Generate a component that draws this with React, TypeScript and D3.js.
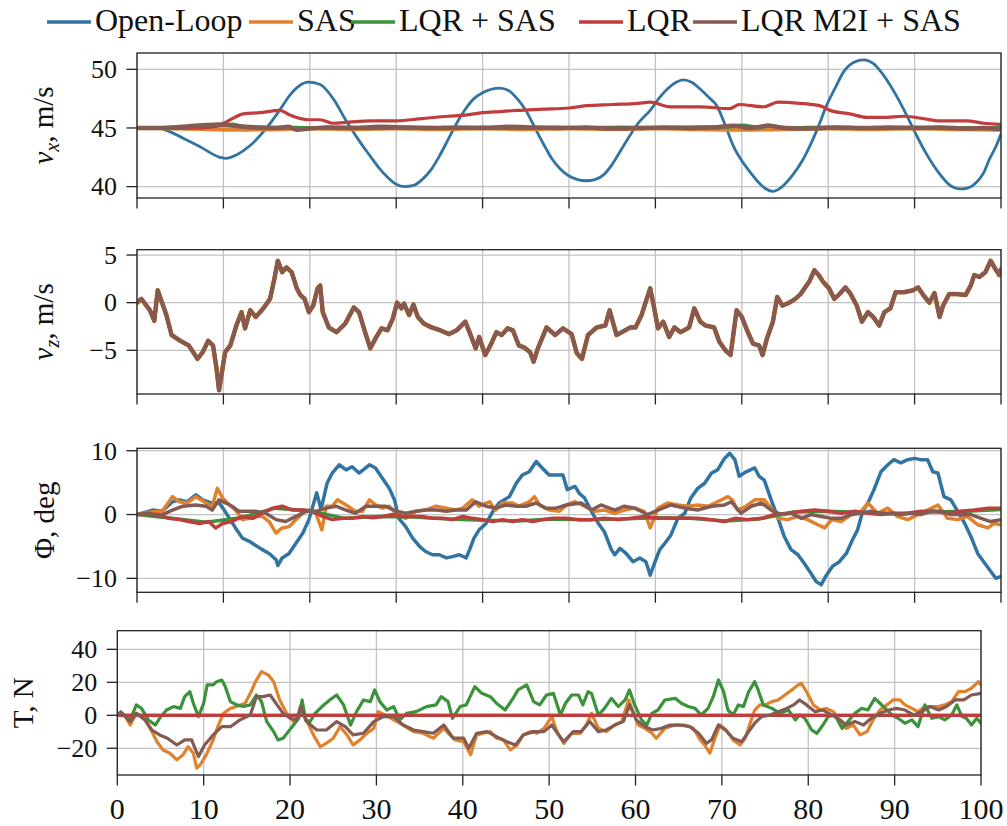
import React from 'react';
import * as d3 from 'd3';

type P = [number, number];

// ---------- tick values ----------
const xTicks = [0, 10, 20, 30, 40, 50, 60, 70, 80, 90, 100];
const vxTicks = [40, 45, 50];
const vzTicks = [-5, 0, 5];
const phiTicks = [-10, 0, 10];
const thrTicks = [-20, 0, 20, 40];

const seriesNames = ['Open-Loop', 'SAS', 'LQR + SAS', 'LQR', 'LQR M2I + SAS'];

// ---------- v_x, m/s ----------
const vxOpenLoop: P[] = [[0,45],[2,45],[3.4,44.8],[5.4,44.1],[7.3,43.4],[9.6,42.5],[10.3,42.4],[11.5,42.7],[13.1,43.5],[15,45],[16.5,46.5],[17.7,47.8],[18.8,48.6],[19.8,48.9],[21.2,48.7],[22.7,47.5],[24.3,45.5],[26,43.6],[27,42.6],[28,41.6],[29,40.8],[30,40.2],[31,40.0],[32,40.1],[33,40.6],[34,41.4],[35,42.6],[36,44.0],[37,45.4],[38,46.6],[39,47.5],[40,48.0],[41,48.3],[42,48.4],[43,48.2],[44,47.5],[45,46.5],[46,45.1],[47,43.7],[48,42.4],[49,41.5],[50,40.9],[51,40.6],[52,40.5],[53,40.6],[54,41.0],[55,41.9],[56,43.1],[57,44.3],[58,45.4],[59.4,46.5],[60.5,47.6],[61.5,48.4],[62.4,48.9],[63.2,49.1],[64.2,48.9],[65.2,48.3],[66.2,47.6],[67.1,46.9],[68,45.4],[69,43.5],[70,42.2],[71,41.2],[72,40.3],[72.8,39.8],[73.6,39.6],[74.5,39.9],[75.9,41.0],[77,42.2],[77.9,43.5],[78.9,45.2],[79.8,46.9],[80.8,48.4],[81.8,49.8],[83,50.6],[84.1,50.8],[85.2,50.5],[86.4,49.5],[87.3,48.5],[88.3,47.2],[89.2,45.9],[90.2,44.4],[91.2,43.0],[92.2,41.8],[93.2,40.8],[94.1,40.1],[95.3,39.8],[96.2,39.9],[97.2,40.4],[98,41.2],[98.7,42.4],[99.4,43.4],[100,44.5]];
const vxSAS: P[] = [[0,45],[4,44.95],[8,44.9],[12,44.85],[16,44.9],[20,44.95],[25,44.9],[30,44.95],[35,44.9],[40,44.95],[45,44.9],[50,44.95],[55,44.9],[60,44.95],[65,44.9],[70,44.85],[75,44.9],[80,44.95],[85,44.9],[90,44.95],[95,44.9],[100,44.85]];
const vxLQRSAS: P[] = [[0,45],[3,45],[6,45.05],[8,45.1],[10,45.25],[11,45.3],[12,45.15],[14,45.0],[17,45.05],[20,45.0],[24,45.05],[28,45.0],[32,45.05],[36,45.0],[40,45.05],[44,45.0],[48,45.05],[52,45.0],[56,45.05],[60,45.0],[64,45.05],[68,45.1],[70,45.2],[72,45.05],[73,45.2],[75,45.0],[80,45.05],[85,45.0],[90,45.05],[95,45.0],[100,45.0]];
const vxLQR: P[] = [[0,45],[3,45],[6,45],[8.8,45.1],[10.3,45.5],[11.3,45.9],[12.3,46.2],[14.2,46.3],[16.5,46.5],[17.7,46.1],[19.8,45.7],[21.2,45.7],[22.7,45.4],[24.6,45.5],[27,45.6],[30,45.6],[33,45.8],[36,46.0],[38,46.1],[40,46.3],[42,46.4],[44,46.5],[47,46.6],[50,46.7],[52,46.9],[55,47.0],[58,47.1],[59.4,47.2],[61.7,46.8],[62.8,46.8],[65.2,46.8],[68.6,46.65],[69.7,47.0],[72.5,46.8],[74.2,47.2],[76.7,47.1],[79,46.9],[80.2,46.5],[82.5,46.2],[84.5,45.9],[86.4,45.9],[88.7,46.0],[91,45.8],[92.9,45.6],[96,45.6],[98,45.4],[100,45.3]];
const vxM2I: P[] = [[0,45],[2,45],[4,45.05],[6,45.15],[8,45.25],[9.5,45.3],[11,45.2],[12.5,45.1],[14,45.05],[16,45.0],[17.5,45.1],[18.5,44.85],[20,44.95],[22,45.05],[25,45.0],[28,45.1],[31,45.05],[34,45.0],[37,45.05],[40,45.0],[43,45.1],[46,45.05],[49,45.0],[52,45.05],[55,44.95],[58,45.0],[61,45.05],[64,45.0],[67,45.05],[69,45.2],[71,45.0],[73,45.2],[75,45.0],[78,44.95],[81,45.05],[84,45.0],[87,45.05],[90,45.0],[93,45.05],[96,44.95],[98,45.0],[100,44.9]];

// ---------- v_z, m/s (all five controllers overlap) ----------
const vzAll: P[] = [[0,0],[0.5,0.4],[1.5,-0.8],[2,-1.9],[2.4,1.3],[3.4,-1.3],[4,-3.4],[5,-4],[6,-4.5],[7,-5.9],[7.6,-5.2],[8.25,-4],[8.8,-4.5],[9.2,-6.9],[9.5,-9.2],[10.2,-5.2],[10.8,-4.5],[11.5,-2.4],[12.1,-1],[12.5,-2.7],[13.1,-0.8],[13.75,-1.5],[14.7,-0.5],[15.4,0.4],[15.9,2.5],[16.3,4.4],[16.8,3.2],[17.3,3.7],[17.9,3.2],[18.5,1.5],[18.9,0.8],[19.4,0.4],[19.9,-1],[20.4,-0.3],[20.9,1.5],[21.2,1.8],[21.5,-1],[22.2,-2.6],[23.1,-3.1],[24.1,-2.2],[25.1,-0.5],[25.7,-1],[26.4,-3.1],[27,-4.8],[27.7,-3.6],[28.3,-2.7],[29,-2.9],[29.6,-1.7],[30.1,0],[30.6,-0.6],[30.9,-0.1],[31.5,-1.3],[32,-0.2],[32.5,-1.5],[33.2,-2.2],[34.1,-2.6],[35.1,-2.9],[36.1,-3.3],[37,-2.9],[38,-2],[38.7,-3.6],[39.2,-4.8],[39.6,-3.6],[40.3,-5.5],[40.9,-4.5],[41.6,-3.1],[42.2,-3.4],[42.9,-2.7],[43.5,-2.9],[44.2,-4.5],[44.8,-4.7],[45.5,-5.2],[45.9,-6.2],[46.4,-4.8],[47.4,-2.6],[48.4,-3.4],[49.3,-2.7],[50.3,-3.3],[50.9,-5.3],[51.5,-5.9],[52.2,-3.4],[53.2,-2.6],[54.2,-2.4],[54.7,-0.8],[55.5,-3.4],[56.1,-3.1],[57.1,-2.6],[57.7,-2.6],[58.4,-1.3],[59,0.4],[59.4,1.5],[59.8,-0.3],[60.3,-2.7],[60.9,-2],[61.6,-3.6],[62.2,-2.6],[62.9,-3.1],[63.9,-2.6],[64.5,-0.6],[65.2,-2],[65.8,-2.4],[66.8,-2.6],[67.4,-4.1],[68.1,-5],[68.7,-5.5],[69.4,-0.8],[70,-1.5],[70.7,-3.1],[71.3,-4.3],[72,-4.5],[72.4,-5.5],[72.9,-3.8],[73.6,-2],[74.1,0.6],[74.7,-0.3],[75.5,0],[76.2,0.4],[76.8,0.9],[77.8,2.2],[78.4,3.4],[78.9,2.9],[79.4,2.2],[80.1,1.5],[80.7,0.4],[81.3,0.9],[82,1.6],[82.6,0.9],[83.3,-0.3],[83.9,-2],[84.6,-1],[85.2,-1.5],[85.9,-2.4],[86.5,-1],[87.2,-0.6],[87.8,1.1],[88.8,1.1],[89.8,1.3],[90.4,1.6],[91,0.8],[91.7,0],[92.3,1.0],[92.9,-1.5],[93.3,-0.3],[94,0.9],[94.9,0.9],[95.9,0.8],[96.5,1.8],[96.9,2.9],[97.5,2.7],[98.2,3.2],[98.8,4.4],[99.3,3.6],[99.8,2.9],[100,3.5]];

// ---------- Phi, deg ----------
const phiOpenLoop: P[] = [[0,0],[1.8,0.7],[2.9,0.5],[4.1,2],[4.9,2.3],[5.8,2],[6.8,3.1],[7.6,2.3],[8.7,1.8],[9.5,1.8],[10.1,0.7],[10.7,-0.6],[11.4,-2.1],[12.2,-3.7],[13,-4.2],[13.7,-4.8],[14.5,-5.5],[15.3,-6.1],[16.1,-7.1],[16.3,-8],[16.8,-6.8],[17.6,-6.1],[18.4,-4.5],[19.2,-2.9],[19.9,-0.8],[20.5,2],[20.8,3.4],[21.3,0.8],[22,4.9],[22.6,6.5],[23.4,7.8],[24.2,7],[24.9,7.5],[25.7,6.5],[26.9,7.8],[27.6,7.3],[28.4,5.7],[29.2,4.1],[29.8,2.3],[30.3,-0.6],[31.1,-1.9],[31.9,-3.7],[32.7,-5],[33.4,-5.8],[34.2,-6.3],[35,-6.3],[35.8,-6.8],[36.5,-6.6],[37.3,-6.3],[38.1,-6.8],[38.5,-5.5],[39,-3.7],[39.6,-2.4],[40.4,-1.4],[41.2,0.5],[41.9,1.8],[43.1,2.8],[43.9,4.9],[44.6,6.2],[45.4,6.7],[46.2,8.3],[46.9,7.3],[47.7,6.2],[48.5,6.2],[49.3,6.2],[49.8,3.9],[50.3,4.2],[50.7,4.4],[51.2,3.3],[51.8,2.6],[52.6,0.5],[53.4,-1.4],[54.1,-2.7],[54.9,-5.5],[55.3,-6.3],[55.9,-5.3],[56.6,-6.1],[57.4,-7.4],[58.2,-6.8],[58.9,-7.4],[59.4,-9.5],[59.9,-7.6],[60.5,-5.5],[61.1,-4.5],[61.8,-3.2],[62.6,-0.6],[63.4,0.2],[64.1,2.6],[64.9,4.1],[65.7,4.9],[66.5,6.5],[67.2,7],[68,8.8],[68.6,9.6],[69.2,8.6],[69.7,6],[70.5,6.7],[71.5,7.3],[72,6],[72.6,5.4],[73.4,2.3],[74.2,-0.6],[74.9,-3.4],[75.7,-5.5],[76.5,-6.3],[77.2,-7.6],[78,-9.2],[78.6,-10.5],[79.2,-11],[79.7,-9.7],[80.5,-8.1],[81.3,-7.4],[82.1,-6.1],[82.8,-4],[83.4,-2.4],[84,0.5],[84.6,1.8],[85.3,3.9],[86.1,6.7],[86.9,7.8],[87.6,8.6],[88.4,8.1],[89.2,8.6],[90,8.8],[90.7,8.6],[91.5,8.6],[92.1,6.7],[92.7,6.5],[93.4,2.8],[94.2,2.3],[95,0.5],[95.8,-1.4],[96.5,-3.4],[97.3,-6.1],[98.1,-7.6],[98.8,-8.9],[99.4,-10],[100,-9.7]];
const phiSAS: P[] = [[0,0],[1.5,0.4],[2.9,0.5],[4.1,2.8],[4.9,2],[5.8,1.8],[6.8,2.8],[8,1.8],[8.7,1.3],[9.3,4.1],[9.9,2.6],[10.7,1.5],[11.4,0.7],[12.2,-0.8],[13,-0.6],[13.7,-0.3],[14.5,-0.3],[15.3,-1.1],[16.1,-2.9],[16.8,-2.1],[17.6,-1.9],[18.4,-0.8],[19.2,0.2],[19.9,0.7],[20.7,0.2],[21.4,-2.4],[21.9,1.3],[22.6,1.3],[23.2,2.3],[24.2,1.5],[25.3,0.5],[26.1,0.5],[26.9,2.3],[27.6,1.5],[28.4,1],[29.2,1.3],[30,0.2],[31.1,-0.6],[32.3,0.5],[33.4,0.7],[34.6,1.3],[35.8,1],[36.9,0.7],[37.7,1],[38.8,2.3],[39.6,1.3],[40.8,2],[41.5,0.7],[42.3,1.8],[43.5,1.8],[44.2,1.3],[45.4,2],[46,2.8],[46.6,1.5],[47.7,0.7],[48.9,0.5],[49.7,1.5],[50.7,2],[51.8,1.3],[53,0.5],[54.1,0.7],[55.3,0.2],[56.4,0.7],[57.6,1],[58.7,0.5],[59.4,-2.1],[60.3,1],[61.4,1.8],[62.6,1.5],[63.8,1.3],[64.9,1.5],[66.1,1.3],[67.2,2],[68.4,2.8],[68.9,2.3],[69.5,0.7],[70.5,1.3],[71.5,2.3],[72.6,2.3],[73.4,1],[74.2,-0.6],[75.3,-0.8],[76.5,-0.3],[77.6,-0.8],[78.8,-1.6],[79.6,-2.1],[80.4,-0.8],[81.5,-1.1],[82.6,-0.1],[83.8,0.5],[84.6,1.8],[85.7,0.2],[86.9,1],[88,-0.3],[89.2,-0.8],[90.3,-0.1],[91.5,0.7],[92.7,1.5],[93.8,-0.6],[95,-0.8],[96.1,-0.3],[97.3,-1.6],[98.5,-2.1],[99.2,-1.4],[100,-1.6]];
const phiLQRSAS: P[] = [[0,0],[4,-0.6],[8,-1.2],[12,-0.5],[16,1.0],[20,0.6],[24,-0.6],[28,-0.3],[32,-0.4],[36,-0.7],[40,-0.9],[44,-1.0],[48,-0.7],[52,-0.8],[56,-0.7],[60,-0.5],[64,-0.6],[68,-1.0],[72,-0.7],[76,0.4],[80,0.5],[84,0.3],[88,0.1],[92,0.4],[96,0.5],[100,0.8]];
const phiLQR: P[] = [[0,0],[1.4,0],[2.5,0],[3.7,-0.6],[4.9,-0.8],[6,-1.1],[7.2,-1.4],[8.3,-1.1],[9.1,-2.1],[9.9,-1.4],[11,-1.1],[12.2,-0.3],[13.4,-0.6],[14.5,0.2],[15.7,1],[16.8,1.3],[18,0.7],[19.2,0.7],[20.3,0.5],[21.5,-0.3],[22.6,-0.8],[23.8,-0.6],[24.9,-0.6],[26.1,-0.3],[27.3,-0.5],[28.4,-0.3],[29.6,0],[30.7,-0.3],[31.9,-0.3],[33,-0.3],[34.2,-0.6],[35.4,-0.6],[36.5,-0.8],[37.7,-0.3],[38.8,-0.6],[40,-0.8],[41.2,-1.1],[42.3,-0.8],[43.5,-1.1],[44.6,-0.8],[45.8,-1.1],[47,-0.8],[48.1,-0.6],[49.7,-0.6],[51,-0.8],[52.6,-0.8],[54.1,-0.6],[55.7,-0.8],[57.2,-0.6],[58.7,-0.3],[60.3,-0.6],[61.8,-0.6],[63.4,-0.6],[64.9,-0.6],[66.5,-0.8],[68,-1.1],[69.2,-0.6],[70.7,-0.8],[72.3,-0.6],[73.8,0],[75.3,0.2],[76.9,0.5],[78.4,0.7],[80,0.5],[81.5,0.2],[83.1,0.5],[84.6,0.2],[86.1,0],[87.7,0.2],[89.2,0.2],[90.7,0.5],[92.3,0.5],[93.8,0.2],[95.4,0.5],[96.9,0.7],[98.5,1],[100,1]];
const phiM2I: P[] = [[0,0],[1.4,0.2],[2.5,-0.3],[4.1,0.7],[5.3,1.3],[6.8,1.5],[8,1.3],[8.7,0.7],[9.5,2.3],[10.3,1.8],[11,1.3],[11.8,0.5],[12.6,0.5],[13.7,0.5],[14.9,0.2],[16.1,-0.8],[17.2,-1.1],[18.4,-0.3],[19.5,0.5],[20.7,0.5],[21.9,1],[23,1.3],[24.2,0.7],[25.3,0.2],[26.5,1.3],[27.6,1.3],[28.8,1.3],[30,0.5],[31.1,0.2],[32.3,0.5],[33.4,0.7],[34.6,0.7],[35.8,0.5],[36.9,0.7],[38.1,0.7],[39.2,2],[40.4,1.3],[41.5,1],[42.7,1.5],[43.9,1.3],[45,1.3],[46.2,1.8],[47.3,1],[48.5,1],[49.7,1.5],[51.4,1.8],[52.6,0.7],[53.7,1.5],[55.3,0.7],[56.4,1.3],[57.6,1],[59.1,0],[60.3,0.7],[61.8,1.5],[63.4,1],[64.9,0.7],[66.5,1.3],[68,1.5],[68.8,2],[69.9,0.2],[71.1,1.3],[72.3,1.8],[73.4,0.7],[74.6,0],[75.7,0.2],[76.9,-0.6],[78,0],[79.2,-0.3],[80.4,-0.6],[81.5,-0.6],[82.6,0],[83.8,0.2],[84.9,0.5],[86.1,0.2],[87.3,0.2],[88.4,0],[89.6,0.2],[90.7,0],[91.9,0.5],[93.1,0.5],[94.2,0],[95.4,0],[96.5,0],[97.7,-0.6],[98.8,-1.1],[100,-0.8]];

// ---------- T, N ----------
const thrOpenLoop: P[] = [[0,0],[100,0]];
const thrSAS: P[] = [[0,0],[0.4,2],[1,-1.5],[1.5,-5.9],[2.2,1.2],[3,-0.8],[3.8,-7.9],[4.6,-16],[5.3,-21],[6.1,-23],[6.9,-27],[7.6,-24],[8.2,-19],[8.8,-23],[9.2,-32],[9.6,-30],[10.3,-24],[11.1,-15],[11.7,-5.9],[12.3,1.2],[13.1,4.2],[13.8,5.3],[14.8,7.3],[15.4,13.3],[16,20.4],[16.7,26.5],[17.5,24.4],[18.1,20.4],[18.8,9.3],[19.6,1.2],[20.4,-3.8],[21,1.2],[21.4,4.2],[21.9,-2.8],[22.7,-11.9],[23.5,-19],[24.2,-17],[25,-13.9],[25.8,-6.9],[26.6,-11.9],[27.3,-18],[28.1,-14.9],[28.9,-10.9],[29.7,-7.9],[30.2,2.2],[31,0.2],[32,-2.8],[33.1,-5.9],[34.3,-9.9],[35.4,-10.9],[36.6,-13.9],[37.8,-7.9],[38.5,-11.9],[39.1,-14.9],[40.1,-16],[40.9,-24],[41.6,-11.9],[42.4,-10.9],[43.2,-9.9],[43.9,-13.9],[44.7,-14.9],[45.5,-21],[46.3,-18],[47,-11.9],[47.8,-9.9],[48.6,-10.9],[49.4,-7.9],[50.3,-0.8],[50.9,-9.9],[51.7,-17],[52.6,-10.9],[53.6,-10.9],[54.3,-5.9],[54.9,1.2],[55.7,-7.9],[56.6,-9.9],[57.6,-5.9],[58.4,-3.8],[59.2,9.3],[59.5,5.3],[60.3,-5.9],[61.1,-7.9],[61.9,-10.9],[62.4,-13.9],[63.4,-7.9],[64.6,-5.9],[65.7,-5.9],[66.7,-7.9],[67.5,-14.9],[68,-18],[68.6,-23],[69.2,-13.9],[69.8,-5.9],[70.5,-8.9],[71.3,-14.9],[72.1,-18],[72.7,-13.9],[73.2,-5.9],[73.8,3.2],[74.4,6.3],[75,6.3],[75.8,8.3],[76.5,9.3],[77.3,12.3],[78.1,15.4],[78.8,18.4],[79.2,19.4],[79.8,14.3],[80.6,6.3],[81.4,3.2],[82.1,4.2],[82.9,2.2],[83.7,-3.8],[84.4,-7.9],[85.2,-5.9],[86,-11.9],[86.8,-9.9],[87.5,-2.8],[88.3,3.2],[89.1,6.3],[89.8,9.3],[90.6,9.3],[91.2,6.3],[92,4.2],[92.7,2.2],[93.5,5.3],[94.3,5.3],[95.1,5.3],[95.8,6.3],[96.6,8.3],[97.4,14.3],[98.1,14.3],[98.9,16.4],[99.7,20.4],[100,18.4]];
const thrLQRSAS: P[] = [[0,0],[0.4,1.5],[1,-1],[1.5,-2.8],[2.2,6.3],[2.8,4.2],[3.6,-2.8],[4.4,-5.9],[4.9,-1.8],[5.7,3.2],[6.5,5.3],[7.3,4.2],[7.8,11.3],[8.4,14.3],[8.8,7.3],[9.4,-0.8],[10,7.3],[10.4,18.4],[11.1,18.4],[11.5,20.4],[12.1,21.4],[12.5,17.4],[13.1,8.3],[13.8,6.3],[14.6,5.3],[15.4,6.3],[16.1,12.3],[16.7,8.3],[17.3,-3.8],[18.1,-9.9],[18.6,-14.9],[19.2,-13.9],[19.8,-9.9],[20.4,-5.9],[21,-1.8],[21.4,9.3],[21.8,-2.8],[22.3,-3.8],[22.9,1.2],[23.7,5.3],[24.6,9.3],[25.4,12.3],[26.2,6.3],[27,-5.9],[27.7,2.2],[28.5,9.3],[29.3,8.3],[29.8,15.4],[30.4,8.3],[31.2,3.2],[32,5.3],[32.7,-2.8],[33.5,1.2],[34.6,2.2],[35.8,5.3],[36.9,6.3],[37.5,11.3],[38.3,8.3],[38.8,-1.8],[39.7,5.3],[40.4,6.3],[41.4,17.4],[42.2,13.3],[43.2,11.3],[43.9,7.3],[44.9,3.2],[45.7,9.3],[46.4,15.4],[47.4,18.4],[48.2,8.3],[48.9,6.3],[49.7,12.3],[50.5,13.3],[51.3,0.2],[51.9,7.3],[52.6,12.3],[53.4,12.3],[53.9,6.3],[54.5,14.3],[54.9,13.3],[55.7,0.2],[56.4,4.2],[57.2,10.3],[58,5.3],[58.8,9.3],[59.3,15.4],[59.9,6.3],[60.7,-2.8],[61.3,-5.9],[61.9,1.2],[62.6,3.2],[63.4,9.3],[64.6,10.3],[65.3,7.3],[66.1,5.3],[66.9,4.2],[67.6,0.2],[68.4,4.2],[69,11.3],[69.6,21.4],[70.2,14.3],[70.7,3.2],[71.3,0.2],[71.9,6.3],[72.5,5.3],[73.1,14.3],[73.8,20.4],[74.2,15.4],[74.8,6.3],[75.8,4.2],[76.7,1.2],[77.7,3.2],[78.5,-2.8],[79,0.2],[79.6,-1.8],[80.4,-8.9],[81,-10.9],[81.7,-5.9],[82.3,-0.8],[83.1,0.2],[83.9,-7.9],[84.6,-3.8],[85.4,1.2],[86.2,4.2],[86.9,3.2],[87.7,10.3],[88.3,7.3],[88.9,4.2],[89.7,0.2],[90.4,-1.8],[91.2,-4.8],[92,-2.8],[92.7,-6.9],[93.5,6.3],[94.3,-1.8],[95.1,-0.8],[95.8,-2.8],[96.6,0.2],[97.2,6.3],[97.8,-0.8],[98.3,-1.8],[98.9,-5.9],[99.5,-1.8],[100,-4.8]];
const thrLQR: P[] = [[0,0],[100,0]];
const thrM2I: P[] = [[0,0],[0.4,2],[1,-1],[1.5,-3.8],[2.2,1.2],[3.2,-2.8],[4,-8.9],[4.9,-11.9],[5.8,-13.9],[6.9,-18],[7.8,-14.9],[8.6,-14.9],[9.4,-25],[10.1,-18],[11.1,-11.9],[12.1,-6.9],[13.1,-6.9],[14.2,-2.8],[15.4,0.2],[16.1,11.3],[16.9,11.3],[17.7,12.3],[18.5,6.3],[19.2,1.2],[20,-1.8],[20.8,-2.8],[21.2,5.3],[21.9,-3.8],[23.1,-8.9],[24.2,-8.9],[25.4,-3.8],[26.4,-6.9],[27.3,-11.9],[28.5,-10.9],[29.7,-3.8],[30.8,-0.8],[32,-0.8],[33.1,-5.9],[34.3,-8.9],[35.4,-9.9],[36.6,-10.9],[37.8,-5.9],[38.9,-13.9],[40.1,-13.9],[40.7,-20],[41.6,-10.9],[42.8,-9.9],[43.9,-12.9],[45.1,-16],[46.1,-18],[47,-11.9],[48.2,-9.9],[49.4,-9.9],[50.3,-5.9],[51.1,-11.9],[51.7,-16],[52.8,-9.9],[53.7,-9.9],[54.7,-3.8],[55.7,-9.9],[56.6,-8.9],[57.6,-5.9],[58.6,-3.8],[59.3,6.3],[60.1,-2.8],[61.1,-6.9],[62,-8.9],[63,-7.9],[64,-5.9],[65.1,-5.9],[66.3,-6.9],[67.3,-10.9],[68.2,-17],[68.8,-14.9],[69.6,-5.9],[70.4,-8.9],[71.3,-13.9],[72.3,-16],[73.1,-9.9],[73.8,-4.8],[74.6,-0.8],[75.6,0.2],[76.5,2.2],[77.5,4.2],[78.3,6.3],[79,9.3],[79.8,6.3],[80.8,2.2],[81.7,3.2],[82.7,0.2],[83.7,-2.8],[84.4,-5.9],[85.4,-3.8],[86.4,-5.9],[87.3,-1.8],[88.3,1.2],[89.3,3.2],[90.2,4.2],[91.2,3.2],[92.2,0.2],[93.1,2.2],[94.1,5.3],[95.1,3.2],[96,5.3],[97,9.3],[98,9.3],[98.9,12.3],[100,13.3]];

// ---------- styling ----------
const COLORS = ['#3274a1', '#e1812c', '#3a923a', '#c03d3e', '#845b53'];
const FONT = 'Liberation Serif, DejaVu Serif, serif';
const W = 1007;
const H = 826;

type PanelDef = {
  id: string;
  left: number; right: number; top: number; bottom: number;
  domain: [number, number];
  ticks: number[];
  series: P[][];
  widths: number[];
  smooth?: boolean;
  label: React.ReactNode;
  labelX: number;
  xLabels: boolean;
};

const fmt = (v: number) => (v < 0 ? '\u2212' + Math.abs(v) : String(v));

function Panel({ p }: { p: PanelDef }) {
  const x = d3.scaleLinear().domain([0, 100]).range([p.left, p.right]);
  const y = d3.scaleLinear().domain(p.domain).range([p.bottom, p.top]);
  const line = d3.line<P>().x(d => x(d[0])).y(d => y(d[1]))
    .curve(p.smooth ? d3.curveMonotoneX : d3.curveLinear);
  const clipId = 'clip-' + p.id;
  const cy = (p.top + p.bottom) / 2;
  return (
    <g>
      <defs>
        <clipPath id={clipId}>
          <rect x={p.left} y={p.top} width={p.right - p.left} height={p.bottom - p.top} />
        </clipPath>
      </defs>
      {xTicks.map(t => (
        <line key={'gx' + t} x1={x(t)} x2={x(t)} y1={p.top} y2={p.bottom} stroke="#c2c2c2" strokeWidth={1.3} />
      ))}
      {p.ticks.map(t => (
        <line key={'gy' + t} x1={p.left} x2={p.right} y1={y(t)} y2={y(t)} stroke="#c2c2c2" strokeWidth={1.3} />
      ))}
      <g clipPath={`url(#${clipId})`}>
        {p.series.map((s, i) => (
          <path key={i} d={line(s) || ''} fill="none" stroke={COLORS[i]} strokeWidth={p.widths[i]}
            strokeLinejoin="round" strokeLinecap="round" />
        ))}
      </g>
      <rect x={p.left} y={p.top} width={p.right - p.left} height={p.bottom - p.top} fill="none" stroke="#222" strokeWidth={1.3} />
      {xTicks.map(t => (
        <line key={'tx' + t} x1={x(t)} x2={x(t)} y1={p.bottom} y2={p.bottom + 10.5} stroke="#222" strokeWidth={1.3} />
      ))}
      {p.xLabels && xTicks.map(t => (
        <text key={'lx' + t} x={x(t)} y={819} textAnchor="middle" fontFamily={FONT} fontSize={30} fill="#111">{t}</text>
      ))}
      {p.ticks.map(t => (
        <g key={'ty' + t}>
          <line x1={p.left - 10.5} x2={p.left} y1={y(t)} y2={y(t)} stroke="#222" strokeWidth={1.3} />
          <text x={p.left - 20} y={y(t)} dy="0.34em" textAnchor="end" fontFamily={FONT} fontSize={26} fill="#111">{fmt(t)}</text>
        </g>
      ))}
      <text transform={`translate(${p.labelX},${cy}) rotate(-90)`} textAnchor="middle" fontFamily={FONT} fontSize={29} fill="#111">
        {p.label}
      </text>
    </g>
  );
}

export default function App() {
  const L = 137, R = 1001;
  const panels: PanelDef[] = [
    {
      id: 'vx', left: L, right: R, top: 53, bottom: 198, domain: [39.03, 51.39], ticks: vxTicks,
      series: [vxOpenLoop, vxSAS, vxLQRSAS, vxLQR, vxM2I], widths: [2.8, 4, 4, 3.2, 4.4], smooth: true,
      label: (<><tspan fontStyle="italic">v</tspan><tspan fontStyle="italic" fontSize={20} dy={6}>x</tspan><tspan dy={-6}>, m/s</tspan></>),
      labelX: 53, xLabels: false,
    },
    {
      id: 'vz', left: L, right: R, top: 249.7, bottom: 394, domain: [-9.59, 5.56], ticks: vzTicks,
      series: [vzAll, vzAll, vzAll, vzAll, vzAll], widths: [3, 4.6, 4, 3.8, 3.2],
      label: (<><tspan fontStyle="italic">v</tspan><tspan fontStyle="italic" fontSize={20} dy={6}>z</tspan><tspan dy={-6}>, m/s</tspan></>),
      labelX: 53, xLabels: false,
    },
    {
      id: 'phi', left: L, right: R, top: 448.3, bottom: 592.3, domain: [-12.19, 10.38], ticks: phiTicks,
      series: [phiOpenLoop, phiSAS, phiLQRSAS, phiLQR, phiM2I], widths: [3.5, 3.5, 3.5, 3.5, 3.5],
      label: (<>{'\u03A6, deg'}</>),
      labelX: 54, xLabels: false,
    },
    {
      id: 'thr', left: 117.3, right: 981, top: 630.7, bottom: 775, domain: [-36.2, 51.3], ticks: thrTicks,
      series: [thrOpenLoop, thrSAS, thrLQRSAS, thrLQR, thrM2I], widths: [3.2, 3.2, 3.2, 3.2, 3.2],
      label: (<>{'T, N'}</>),
      labelX: 33, xLabels: true,
    },
  ];

  const legendLineX = [47, 249, 351, 579, 693];

  return (
    <svg width={W} height={H} viewBox={`0 0 ${W} ${H}`} style={{ position: 'absolute', left: 0, top: 0, background: '#fff' }}>
      <rect x={0} y={0} width={W} height={H} fill="#fff" />
      {seriesNames.map((name, i) => (
        <g key={name}>
          <line x1={legendLineX[i]} x2={legendLineX[i] + 44} y1={22} y2={22} stroke={COLORS[i]} strokeWidth={3.6} />
          <text x={legendLineX[i] + 48} y={31} fontFamily={FONT} fontSize={32} fill="#111">{name}</text>
        </g>
      ))}
      {panels.map(p => <Panel key={p.id} p={p} />)}
    </svg>
  );
}
